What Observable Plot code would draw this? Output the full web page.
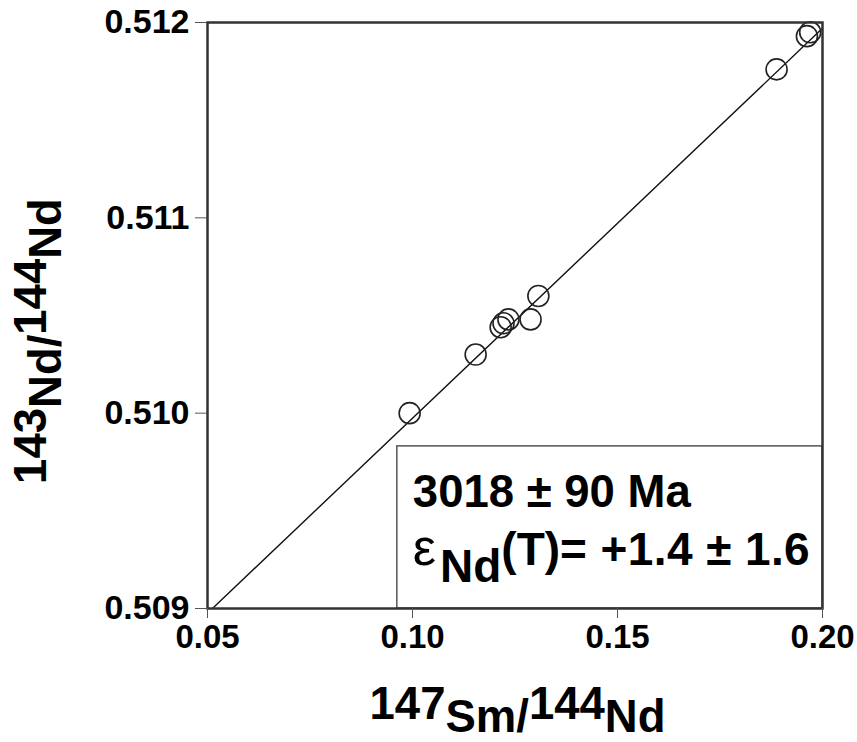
<!DOCTYPE html>
<html>
<head>
<meta charset="utf-8">
<script src="https://cdn.jsdelivr.net/npm/d3@7"></script>
<script src="https://cdn.jsdelivr.net/npm/@observablehq/plot@0.6"></script>
<style>
  body { margin: 0; background: #fff; }
  #chart svg { display: block; }
</style>
</head>
<body>
<div id="chart"></div>
<script>
// Whole-rock Sm–Nd isochron data
const smNd = [0.0993, 0.1154, 0.1215, 0.1222, 0.1234, 0.1288, 0.1307, 0.1888, 0.1962, 0.1970];
const ndNd = [0.51000, 0.51030, 0.51044, 0.51046, 0.51048, 0.51048, 0.51060, 0.51176, 0.51193, 0.51195];

// Regression line endpoints (isochron)
const isoSm = [0.0512, 0.2000];
const isoNd = [0.50900, 0.51197];

// Tick values
const xTicks = [0.05, 0.10, 0.15, 0.20];
const yTicks = [0.509, 0.510, 0.511, 0.512];

// Result box extent and texts
const boxSm = [0.0963, 0.2000];
const boxNd = [0.50900, 0.50983];
const ageText = "3018 ± 90 Ma";
const epsValue = "= +1.4 ± 1.6";

const samples = smNd.map((x, i) => ({x, y: ndNd[i]}));
const isochron = isoSm.map((x, i) => ({x, y: isoNd[i]}));

const font = "'Liberation Sans', Arial, Helvetica, sans-serif";

const plot = Plot.plot({
  width: 857,
  height: 742,
  marginLeft: 207,
  marginRight: 35,
  marginTop: 22,
  marginBottom: 134,
  style: {fontFamily: font, fontWeight: "bold", background: "#fff", color: "#000"},
  x: {domain: [0.05, 0.20]},
  y: {domain: [0.509, 0.512]},
  marks: [
    Plot.rect([{x1: boxSm[0], x2: boxSm[1], y1: boxNd[0], y2: boxNd[1]}],
      {x1: "x1", x2: "x2", y1: "y1", y2: "y2", fill: "#fff", stroke: "#555", strokeWidth: 1.5}),
    Plot.line(isochron, {x: "x", y: "y", stroke: "#111", strokeWidth: 1.4}),
    Plot.dot(samples, {x: "x", y: "y", r: 10.5, stroke: "#222", strokeWidth: 1.6, fill: "none"}),
    Plot.frame({stroke: "#333", strokeWidth: 2.5}),
    Plot.axisX(xTicks, {tickSize: 10, tickPadding: 6, tickFormat: d3.format(".2f"),
      fontSize: 33, label: null, stroke: "#555", fill: "#000"}),
    Plot.axisY(yTicks, {tickSize: 12, tickPadding: 6, tickFormat: d3.format(".3f"),
      fontSize: 34, label: null, stroke: "#555", fill: "#000"})
  ]
});

document.getElementById("chart").append(plot);

const svg = d3.select(plot);
const sx = plot.scale("x"), sy = plot.scale("y");

// Axis titles with raised mass numbers
function isotopeLabel(sel, parts) {
  parts.forEach(([txt, dy]) => sel.append("tspan").attr("dy", dy).text(txt));
}

const xMid = (sx.apply(0.05) + sx.apply(0.20)) / 2;
const xt = svg.append("text")
  .attr("x", xMid + 3).attr("y", 725)
  .attr("text-anchor", "middle")
  .attr("font-family", font).attr("font-weight", "bold").attr("font-size", 45.5)
  .attr("fill", "#000");
isotopeLabel(xt, [["147", -6], ["Sm/", 13], ["144", -13], ["Nd", 13]]);

const yt = svg.append("text")
  .attr("transform", `translate(54, 341) rotate(-90)`)
  .attr("text-anchor", "middle")
  .attr("font-family", font).attr("font-weight", "bold").attr("font-size", 45.5)
  .attr("fill", "#000");
isotopeLabel(yt, [["143", -8], ["Nd/", 15], ["144", -15], ["Nd", 15]]);

// Age and initial epsilon inside the result box
const bx = sx.apply(boxSm[0]) + 16;
const by = sy.apply(boxNd[1]);

svg.append("text")
  .attr("x", bx).attr("y", by + 61)
  .attr("text-anchor", "start")
  .attr("font-family", font).attr("font-weight", "bold").attr("font-size", 45.5)
  .attr("fill", "#000")
  .text(ageText);

const eps = svg.append("text")
  .attr("x", bx).attr("y", by + 119)
  .attr("text-anchor", "start")
  .attr("font-family", font).attr("font-size", 46)
  .attr("fill", "#000");
eps.append("tspan").attr("font-weight", "normal").attr("font-size", 52).text("ε");
eps.append("tspan").attr("font-weight", "bold").attr("dy", 17).attr("dx", 4).text("Nd");
eps.append("tspan").attr("font-weight", "bold").attr("dy", -17).text("(T)");
eps.append("tspan").attr("font-weight", "bold").attr("letter-spacing", 0.4).text(epsValue);
</script>
</body>
</html>
